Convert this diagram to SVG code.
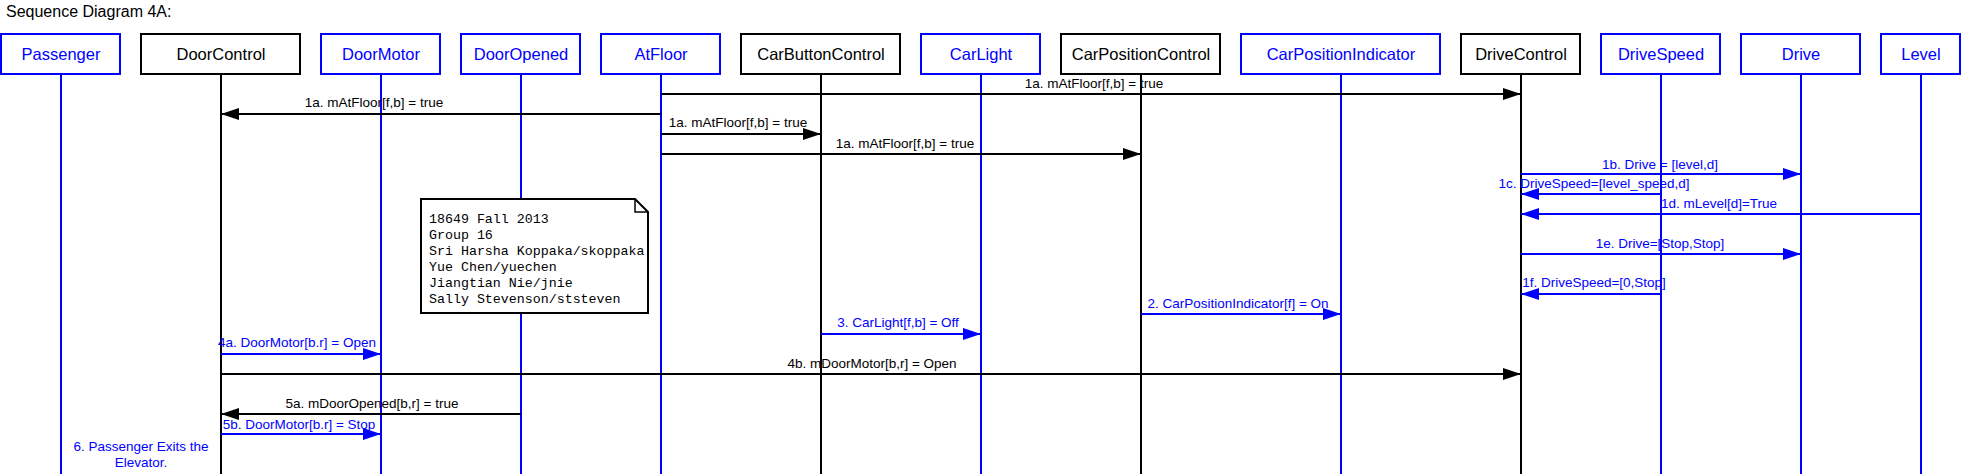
<svg xmlns="http://www.w3.org/2000/svg" width="1962" height="474" viewBox="0 0 1962 474">
<style>
.bb{fill:#fff;stroke:#000;stroke-width:2}
.bu{fill:#fff;stroke:#00f;stroke-width:2}
.tb{font-family:"Liberation Sans",Arial,sans-serif;font-size:16.5px;fill:#000;text-anchor:middle}
.tu{font-family:"Liberation Sans",Arial,sans-serif;font-size:16.5px;fill:#00f;text-anchor:middle}
.lb{stroke:#000;stroke-width:2}
.lu{stroke:#00f;stroke-width:2}
.mb{stroke:#000;stroke-width:2;marker-end:url(#ab)}
.mu{stroke:#00f;stroke-width:2;marker-end:url(#au)}
.kb{font-family:"Liberation Sans",Arial,sans-serif;font-size:13.5px;fill:#000;text-anchor:middle}
.ku{font-family:"Liberation Sans",Arial,sans-serif;font-size:13.5px;fill:#00f;text-anchor:middle}
.note{font-family:"Liberation Mono","Courier New",monospace;font-size:13.3px;fill:#000}
</style>
<defs>
<marker id="ab" markerUnits="userSpaceOnUse" markerWidth="18" markerHeight="12" refX="18" refY="6" orient="auto"><path d="M0,0 L18,6 L0,12 z" fill="#000"/></marker>
<marker id="au" markerUnits="userSpaceOnUse" markerWidth="18" markerHeight="12" refX="18" refY="6" orient="auto"><path d="M0,0 L18,6 L0,12 z" fill="#00f"/></marker>
</defs>
<rect width="1962" height="474" fill="#fff"/>
<text x="6" y="17" font-family="Liberation Sans,Arial,sans-serif" font-size="16px" fill="#000">Sequence Diagram 4A:</text>

<g id="Passenger"><line class="lu" x1="61" y1="74" x2="61" y2="474"/><rect class="bu" x="1" y="34" width="119" height="40"/><text class="tu" x="61" y="60">Passenger</text></g>
<g id="DoorControl"><line class="lb" x1="221" y1="74" x2="221" y2="474"/><rect class="bb" x="141" y="34" width="159" height="40"/><text class="tb" x="221" y="60">DoorControl</text></g>
<g id="DoorMotor"><line class="lu" x1="381" y1="74" x2="381" y2="474"/><rect class="bu" x="321" y="34" width="119" height="40"/><text class="tu" x="381" y="60">DoorMotor</text></g>
<g id="DoorOpened"><line class="lu" x1="521" y1="74" x2="521" y2="474"/><rect class="bu" x="461" y="34" width="119" height="40"/><text class="tu" x="521" y="60">DoorOpened</text></g>
<g id="AtFloor"><line class="lu" x1="661" y1="74" x2="661" y2="474"/><rect class="bu" x="601" y="34" width="119" height="40"/><text class="tu" x="661" y="60">AtFloor</text></g>
<g id="CarButtonControl"><line class="lb" x1="821" y1="74" x2="821" y2="474"/><rect class="bb" x="741" y="34" width="159" height="40"/><text class="tb" x="821" y="60">CarButtonControl</text></g>
<g id="CarLight"><line class="lu" x1="981" y1="74" x2="981" y2="474"/><rect class="bu" x="921" y="34" width="119" height="40"/><text class="tu" x="981" y="60">CarLight</text></g>
<g id="CarPositionControl"><line class="lb" x1="1141" y1="74" x2="1141" y2="474"/><rect class="bb" x="1061" y="34" width="159" height="40"/><text class="tb" x="1141" y="60">CarPositionControl</text></g>
<g id="CarPositionIndicator"><line class="lu" x1="1341" y1="74" x2="1341" y2="474"/><rect class="bu" x="1241" y="34" width="199" height="40"/><text class="tu" x="1341" y="60">CarPositionIndicator</text></g>
<g id="DriveControl"><line class="lb" x1="1521" y1="74" x2="1521" y2="474"/><rect class="bb" x="1461" y="34" width="119" height="40"/><text class="tb" x="1521" y="60">DriveControl</text></g>
<g id="DriveSpeed"><line class="lu" x1="1661" y1="74" x2="1661" y2="474"/><rect class="bu" x="1601" y="34" width="119" height="40"/><text class="tu" x="1661" y="60">DriveSpeed</text></g>
<g id="Drive"><line class="lu" x1="1801" y1="74" x2="1801" y2="474"/><rect class="bu" x="1741" y="34" width="119" height="40"/><text class="tu" x="1801" y="60">Drive</text></g>
<g id="Level"><line class="lu" x1="1921" y1="74" x2="1921" y2="474"/><rect class="bu" x="1881" y="34" width="79" height="40"/><text class="tu" x="1921" y="60">Level</text></g>

<g id="note">
<path d="M421,199 L635,199 L648,212 L648,313 L421,313 z" fill="#fff" stroke="#000" stroke-width="2"/>
<path d="M635,199 L635,212 L648,212" fill="none" stroke="#000" stroke-width="1.5"/>
<text class="note" x="429" y="223">18649 Fall 2013</text>
<text class="note" x="429" y="239">Group 16</text>
<text class="note" x="429" y="255">Sri Harsha Koppaka/skoppaka</text>
<text class="note" x="429" y="271">Yue Chen/yuechen</text>
<text class="note" x="429" y="287">Jiangtian Nie/jnie</text>
<text class="note" x="429" y="303">Sally Stevenson/ststeven</text>
</g>

<g id="connectors">
<line class="mb" x1="661" y1="94" x2="1521" y2="94"/>
<line class="mb" x1="661" y1="114" x2="221" y2="114"/>
<line class="mb" x1="661" y1="134" x2="821" y2="134"/>
<line class="mb" x1="661" y1="154" x2="1141" y2="154"/>
<line class="mu" x1="1521" y1="174" x2="1801" y2="174"/>
<line class="mu" x1="1661" y1="194" x2="1521" y2="194"/>
<line class="mu" x1="1921" y1="214" x2="1521" y2="214"/>
<line class="mu" x1="1521" y1="254" x2="1801" y2="254"/>
<line class="mu" x1="1661" y1="294" x2="1521" y2="294"/>
<line class="mu" x1="1141" y1="314" x2="1341" y2="314"/>
<line class="mu" x1="821" y1="334" x2="981" y2="334"/>
<line class="mu" x1="221" y1="354" x2="381" y2="354"/>
<line class="mb" x1="221" y1="374" x2="1521" y2="374"/>
<line class="mb" x1="521" y1="414" x2="221" y2="414"/>
<line class="mu" x1="221" y1="434" x2="381" y2="434"/>
<text class="kb" x="1094" y="88">1a. mAtFloor[f,b] = true</text>
<text class="kb" x="374" y="107">1a. mAtFloor[f,b] = true</text>
<text class="kb" x="738" y="127">1a. mAtFloor[f,b] = true</text>
<text class="kb" x="905" y="148">1a. mAtFloor[f,b] = true</text>
<text class="ku" x="1660" y="169">1b. Drive = [level,d]</text>
<text class="ku" x="1594" y="188">1c. DriveSpeed=[level_speed,d]</text>
<text class="ku" x="1719" y="208">1d. mLevel[d]=True</text>
<text class="ku" x="1660" y="248">1e. Drive=[Stop,Stop]</text>
<text class="ku" x="1594" y="287">1f. DriveSpeed=[0,Stop]</text>
<text class="ku" x="1238" y="308">2. CarPositionIndicator[f] = On</text>
<text class="ku" x="898" y="327">3. CarLight[f,b] = Off</text>
<text class="ku" x="297" y="347">4a. DoorMotor[b.r] = Open</text>
<text class="kb" x="872" y="368">4b. mDoorMotor[b,r] = Open</text>
<text class="kb" x="372" y="408">5a. mDoorOpened[b,r] = true</text>
<text class="ku" x="299" y="429">5b. DoorMotor[b.r] = Stop</text>
<text class="ku" x="141" y="451">6. Passenger Exits the</text>
<text class="ku" x="141" y="467">Elevator.</text>
</g>
</svg>
